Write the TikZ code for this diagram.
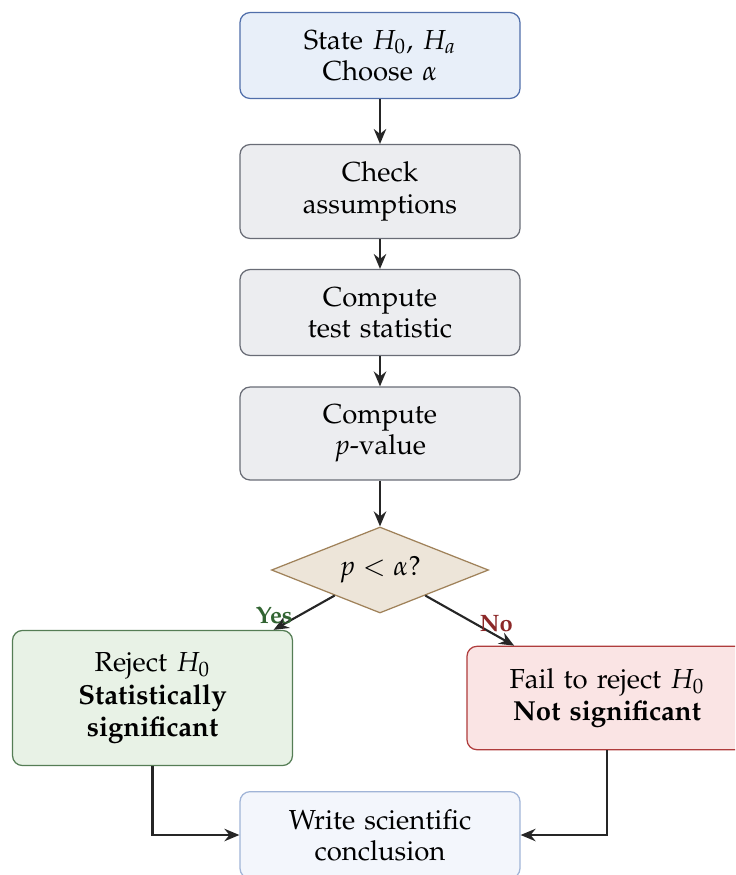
\documentclass[tikz,border=0pt]{standalone}
\usepackage[T1]{fontenc}
\usepackage{mathpazo}
\usetikzlibrary{arrows.meta,shapes.geometric}
\definecolor{bluefill}{RGB}{232,239,249}
\definecolor{blueline}{RGB}{80,110,170}
\definecolor{greyfill}{RGB}{236,237,240}
\definecolor{greyline}{RGB}{105,108,118}
\definecolor{beigefill}{RGB}{237,229,217}
\definecolor{beigeline}{RGB}{160,130,90}
\definecolor{greenfill}{RGB}{232,242,230}
\definecolor{greenline}{RGB}{85,125,85}
\definecolor{redfill}{RGB}{250,228,228}
\definecolor{redline}{RGB}{175,60,60}
\definecolor{concfill}{RGB}{243,246,252}
\definecolor{concline}{RGB}{160,180,215}
\definecolor{yescol}{RGB}{50,100,50}
\definecolor{nocol}{RGB}{140,40,40}
\begin{document}
\begin{tikzpicture}[x=0.4pt,y=-0.4pt,
  box/.style={rectangle, rounded corners=4pt, draw, line width=0.5pt,
    text width=100pt, align=center, inner xsep=6pt, inner ysep=7pt,
    font=\fontsize{11}{12.5}\selectfont},
  stepbox/.style={box, fill=greyfill, draw=greyline},
  resbox/.style={box, inner ysep=8.8pt, font=\fontsize{11}{13}\selectfont},
  arr/.style={-{Stealth[length=6pt,width=5pt,inset=2pt]}, line width=0.85pt, draw=black!85},
  lbl/.style={font=\fontsize{9.5}{10}\selectfont\bfseries, inner sep=1pt}]
\useasboundingbox (0,0) rectangle (735,875);
\clip (0,0) rectangle (735,875);

\node[box, fill=bluefill, draw=blueline] (state) at (380,55.5) {State $H_0$, $H_a$\\Choose $\alpha$};
\node[stepbox] (check) at (380,191.5) {Check\\assumptions};
\node[stepbox] (stat) at (380,312.5) {Compute\\test statistic};
\node[stepbox] (pval) at (380,433.5) {Compute\\$p$-value};
\node[diamond, draw=beigeline, fill=beigefill, line width=0.5pt, aspect=2.5,
  inner sep=0pt, minimum width=86.8pt, minimum height=34.4pt,
  font=\fontsize{11}{12.5}\selectfont] (dec) at (380,570) {$p<\alpha$?};
\node[resbox, fill=greenfill, draw=greenline] (rej) at (152.5,698) {Reject $H_0$\\\textbf{Statistically significant}};
\node[resbox, fill=redfill, draw=redline] (fail) at (607,698) {Fail to reject $H_0$\\\textbf{Not significant}};
\node[box, fill=concfill, draw=concline] (conc) at (380,835) {Write scientific\\conclusion};

\draw[arr] (state) -- (check);
\draw[arr] (check) -- (stat);
\draw[arr] (stat) -- (pval);
\draw[arr] (pval) -- (dec);
\draw[arr] (dec) -- node[lbl, text=yescol, pos=0.93, above, xshift=-1.5pt] {Yes} (rej);
\draw[arr] (dec) -- node[lbl, text=nocol, pos=0.8, above] {No} (fail);
\draw[arr] (rej.south) |- (conc.west);
\draw[arr] (fail.south) |- (conc.east);
\end{tikzpicture}
\end{document}
